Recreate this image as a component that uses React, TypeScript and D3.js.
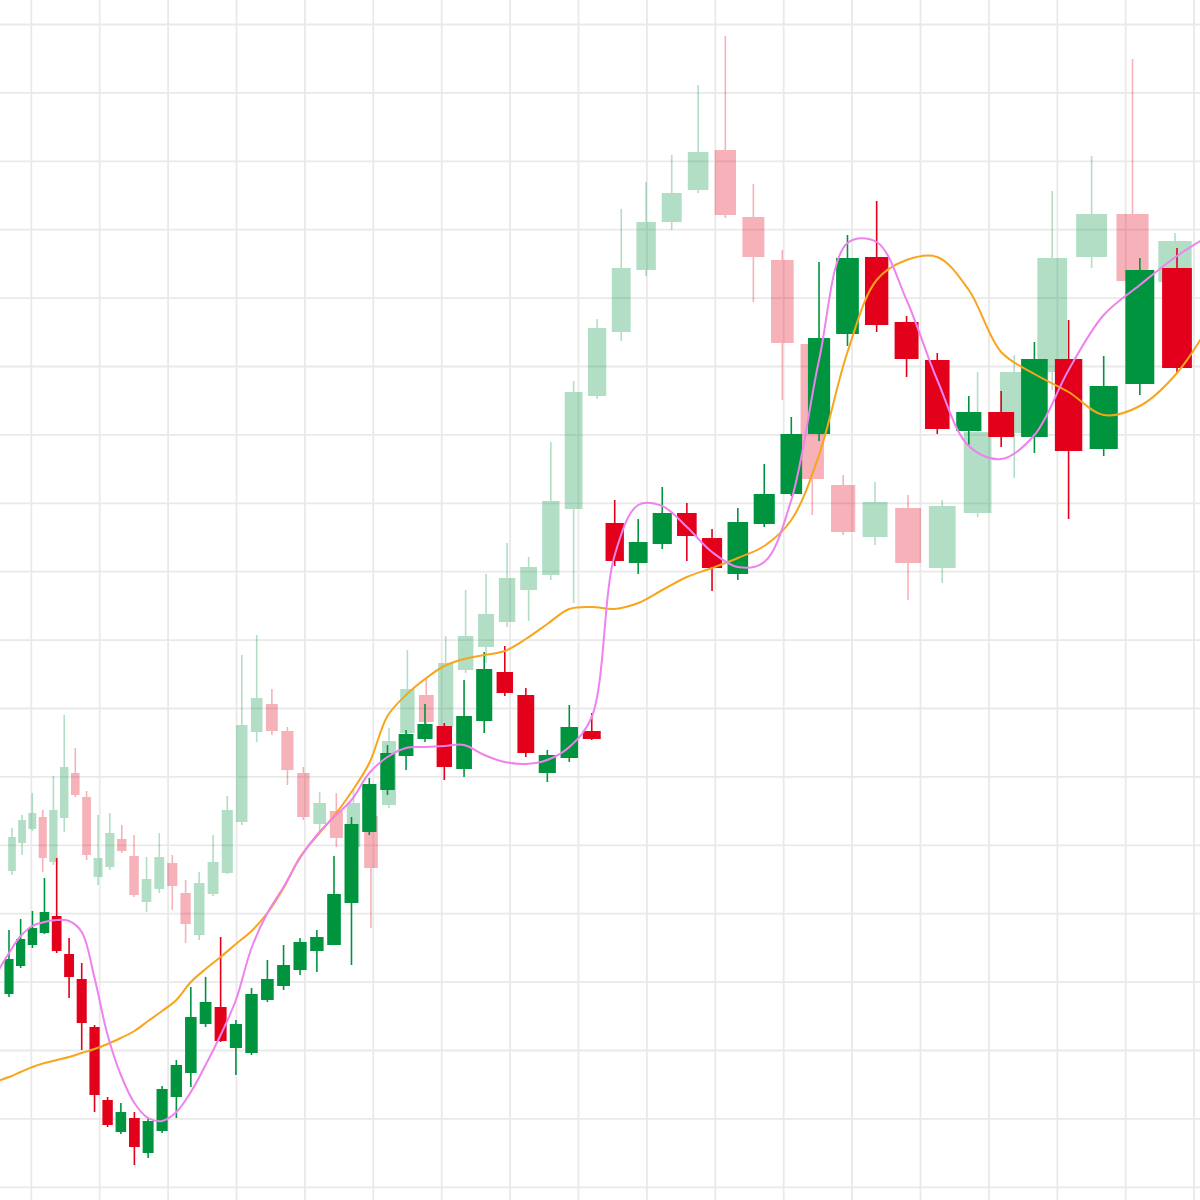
import React, { useEffect } from 'react';
import * as d3 from 'd3';

const W = 1200;
const H = 1200;

// Foreground (bold) candle series, 57 periods
const boldOpen = [206,234,255,267,284,246,221,173,100,68,82,47,69,103,127,176,193,152,147,200,214,230,249,255,297,368,410,444,461,474,431,479,528,505,427,442,469,677,637,656,687,662,626,676,706,766,866,943,878,840,769,788,763,841,751,816,932];
const boldHigh = [270,281,289,322,342,262,237,175,103,97,88,82,114,140,213,223,263,180,212,240,255,262,270,344,383,422,455,470,496,477,520,548,554,512,450,495,487,700,681,713,697,671,692,736,783,938,965,999,884,847,804,809,858,880,844,942,952];
const boldLow = [203,232,252,266,247,202,150,88,73,66,35,42,67,82,113,173,158,125,145,198,210,225,228,255,235,365,405,430,458,420,423,467,504,443,418,438,460,634,626,651,639,609,620,673,704,759,854,868,823,766,755,753,747,681,744,805,828];
const boldClose = [241,261,272,288,249,223,177,105,75,88,53,79,111,135,183,198,159,176,206,221,235,258,263,306,376,416,447,466,476,433,484,531,507,447,445,473,461,639,658,687,664,632,678,706,766,862,942,875,841,771,788,763,841,749,814,930,832];

// Background (faded) candle series, 57 periods
const fadedOpen = [329,357,371,383,338,382,427,403,323,333,361,344,298,311,337,307,265,306,327,378,468,496,469,427,376,389,353,384,395,467,505,473,530,553,578,610,625,691,804,868,930,978,1010,1050,983,940,856,715,663,692,632,687,767,828,943,986,918];
const fadedHigh = [372,385,407,390,424,485,452,409,385,387,375,365,343,367,345,320,328,365,404,545,565,511,473,433,408,407,410,395,472,550,522,564,610,626,657,643,758,819,881,991,1018,1045,1115,1164,1016,950,856,725,718,705,700,828,845,1009,1044,1141,967];
const fadedLow = [325,345,369,328,335,368,403,340,315,330,347,303,288,307,290,257,260,304,326,375,458,465,415,380,367,353,350,272,392,460,474,470,527,537,573,579,620,597,801,859,924,970,1007,982,898,800,685,665,655,600,617,683,722,810,932,910,910];
const fadedClose = [363,380,387,342,390,433,405,345,342,367,349,305,321,343,314,276,317,338,390,475,502,469,430,383,397,362,397,332,459,511,478,537,564,586,622,633,699,808,872,932,978,1007,1048,985,943,857,721,668,698,637,694,768,828,942,986,919,959];

// Moving averages on the bold series, periods -1 .. 57
const maPeriods = d3.range(-1, 58);
const fastMA = [228,247,264,274,278,280,279,268,222,165,125,97,82,79,88,108,135,165,200,252,287,313,342,365,383,400,427,443,452,453,454,455,445,438,436,440,453,483,645,695,694,673,648,633,638,700,840,957,958,900,820,754,741,765,830,885,915,944,968];
const slowMA = [119,123,128,133,137,140,143,147,151,156,162,169,179,189,200,218,231,243,256,269,287,312,343,364,384,408,437,484,505,521,534,541,545,549,561,576,591,593,591,597,610,623,632,642,654,680,745,848,920,940,943,910,848,826,808,785,794,827,885];

const GREEN = '#00943f';
const RED = '#e2001a';

// perspective-style time projections
const projBold = (i: number) => i / (1 - 0.007979 * i);
const projFaded = (i: number) => i / (1 - 0.009293 * i);
const N = boldOpen.length;

const xBold = d3.scaleLinear().domain([projBold(0), projBold(N - 1)]).range([9, 1177]);
const xFaded = d3.scaleLinear().domain([projFaded(0), projFaded(N - 1)]).range([12, 1175]);
const y = d3.scaleLinear().domain([0, 1200]).range([H, 0]);

const gridStep = 68.4;
const gridX = d3.range(18).map((k) => 31.3 + k * gridStep);
const gridY = d3.range(18).map((k) => 24.5 + k * gridStep);

type Candle = { i: number; o: number; h: number; l: number; c: number };

function Candles({ data, xs, proj, frac, opacity }: { data: Candle[]; xs: d3.ScaleLinear<number, number>; proj: (i: number) => number; frac: number; opacity: number }) {
  return (
    <g opacity={opacity}>
      {data.map((d) => {
        const cx = xs(proj(d.i));
        const w = (xs(proj(d.i + 0.5)) - xs(proj(d.i - 0.5))) * frac;
        const up = d.c >= d.o;
        const col = up ? GREEN : RED;
        const top = y(Math.max(d.o, d.c));
        const bot = y(Math.min(d.o, d.c));
        return (
          <g key={d.i}>
            <line x1={cx} x2={cx} y1={y(d.h)} y2={y(d.l)} stroke={col} strokeWidth={1.6} />
            <rect x={cx - w / 2} y={top} width={w} height={Math.max(1, bot - top)} fill={col} />
          </g>
        );
      })}
    </g>
  );
}

export default function App() {
  useEffect(() => {
    document.body.style.margin = '0';
  }, []);

  const bold: Candle[] = boldOpen.map((o, i) => ({ i, o, h: boldHigh[i], l: boldLow[i], c: boldClose[i] }));
  const faded: Candle[] = fadedOpen.map((o, i) => ({ i, o, h: fadedHigh[i], l: fadedLow[i], c: fadedClose[i] }));

  const line = d3
    .line<number>()
    .x((_, k) => xBold(projBold(maPeriods[k])))
    .y((v) => y(v))
    .curve(d3.curveCatmullRom.alpha(0.5));

  return (
    <svg width={W} height={H} style={{ position: 'absolute', left: 0, top: 0, display: 'block', background: '#fff' }}>
      <rect width={W} height={H} fill="#ffffff" />
      <g stroke="#e9e9e9" strokeWidth={1.8}>
        {gridX.map((gx, k) => (
          <line key={'vx' + k} x1={gx} x2={gx} y1={0} y2={H} />
        ))}
        {gridY.map((gy, k) => (
          <line key={'hy' + k} x1={0} x2={W} y1={gy} y2={gy} />
        ))}
      </g>
      <Candles data={faded} xs={xFaded} proj={projFaded} frac={0.77} opacity={0.3} />
      <Candles data={bold} xs={xBold} proj={projBold} frac={0.79} opacity={1} />
      <path d={line(slowMA) || ''} fill="none" stroke="#f8a51c" strokeWidth={2} />
      <path d={line(fastMA) || ''} fill="none" stroke="#ee82ee" strokeWidth={2} />
    </svg>
  );
}
